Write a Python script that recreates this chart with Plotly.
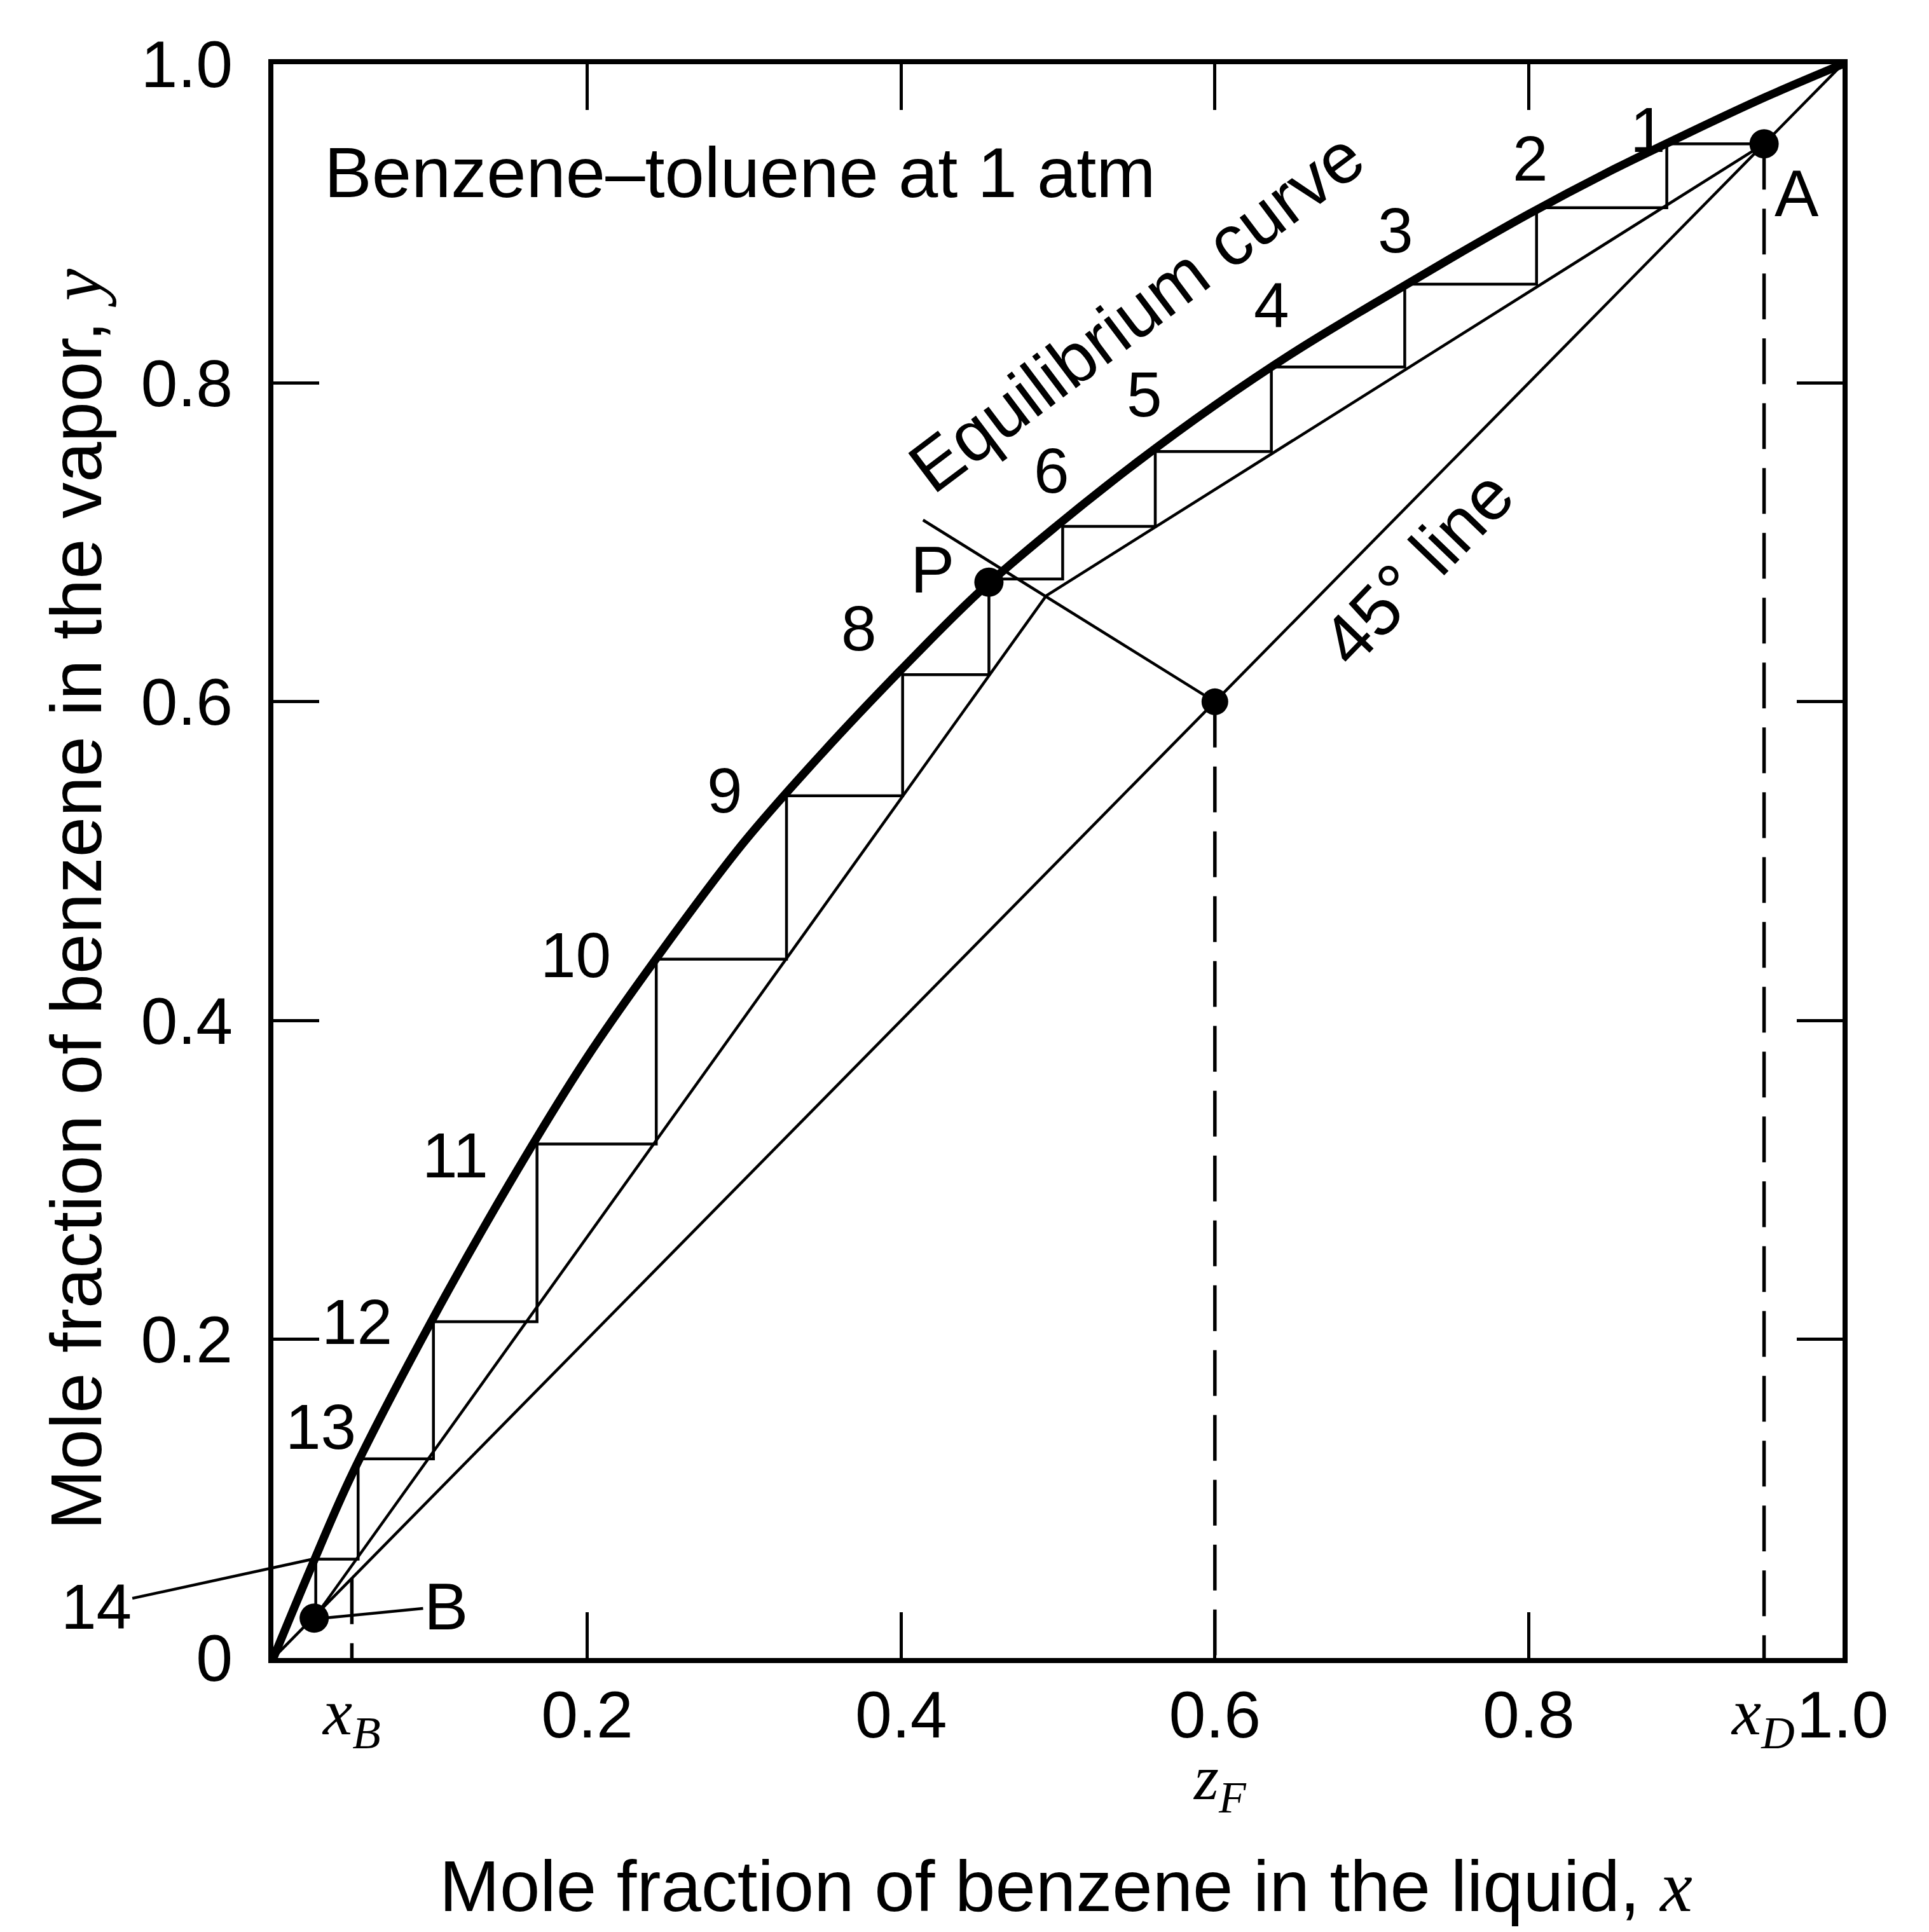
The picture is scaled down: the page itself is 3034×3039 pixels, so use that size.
import plotly.graph_objects as go

# ---- data ----
eq_x = [0.0, 0.025, 0.05, 0.1, 0.15, 0.2, 0.25, 0.3, 0.35, 0.4, 0.45, 0.5, 0.55,
        0.6, 0.65, 0.7, 0.75, 0.8, 0.85, 0.9, 0.95, 1.0]
eq_y = [0.0, 0.059, 0.115, 0.210, 0.297, 0.377, 0.447, 0.512, 0.568, 0.620, 0.669, 0.711, 0.750,
        0.786, 0.819, 0.849, 0.878, 0.906, 0.932, 0.956, 0.979, 1.0]

# stages counted from the top (stage 1) to the bottom (stage 14)
stage_x = [0.888, 0.805, 0.721, 0.636, 0.562, 0.503, 0.456, 0.401, 0.327, 0.244, 0.168, 0.102, 0.054, 0.027]
stage_y = [0.950, 0.910, 0.862, 0.810, 0.757, 0.710, 0.677, 0.617, 0.541, 0.4385, 0.3225, 0.211, 0.125, 0.062]

x_D, x_B, z_F = 0.95, 0.05, 0.60
pt_A = (0.95, 0.95)
pt_P = (0.456, 0.675)
pt_B = (0.026, 0.025)
pt_int = (0.4925, 0.6665)   # intersection of operating lines
q_end = (0.414, 0.714)      # upper end of q-line

rect_x = [x_D, pt_int[0]]
rect_y = [x_D, pt_int[1]]
strip_x = [pt_int[0], pt_B[0]]
strip_y = [pt_int[1], pt_B[1]]
q_x = [z_F, q_end[0]]
q_y = [z_F, q_end[1]]

y_ticks = [0, 0.2, 0.4, 0.6, 0.8, 1.0]
y_ticktext = ["0", "0.2", "0.4", "0.6", "0.8", "1.0"]
x_ticks = [0.2, 0.4, 0.6, 0.8, 1.0]
x_ticktext = ["0.2", "0.4", "0.6", "0.8", "1.0"]

stage_labels = ["1", "2", "3", "4", "5", "6", "8", "9", "10", "11", "12", "13"]

# ---- build staircase path ----
sx, sy = [x_D], [x_D]
for i in range(len(stage_x)):
    sx.append(stage_x[i]); sy.append(stage_y[i])
    nxt = stage_y[i + 1] if i + 1 < len(stage_y) else pt_B[1] + 0.004
    sx.append(stage_x[i]); sy.append(nxt)

BLACK = "black"
THIN = 4.5
fig = go.Figure()

def line(x, y, w=THIN, dash=None, shape="linear"):
    fig.add_trace(go.Scatter(x=x, y=y, mode="lines", showlegend=False, hoverinfo="skip",
                             line=dict(color=BLACK, width=w, dash=dash, shape=shape)))

line([0, 1], [0, 1])                     # 45 degree line
line(rect_x, rect_y)                     # rectifying line
line(strip_x, strip_y)                   # stripping line
line(q_x, q_y)                           # q-line
line(sx, sy)                             # staircase
dash = "72px,30px"
line([z_F, z_F], [z_F, 0], w=5.5, dash=dash)
line([x_D, x_D], [x_D, 0], w=5.5, dash=dash)
line([x_B, x_B], [x_B, 0], w=5.5, dash=dash)
line(eq_x, eq_y, w=13, shape="spline")   # equilibrium curve

fig.add_trace(go.Scatter(x=[pt_A[0], pt_P[0], pt_B[0]], y=[pt_A[1], pt_P[1], pt_B[1]],
                         mode="markers", showlegend=False, hoverinfo="skip", cliponaxis=False,
                         marker=dict(color=BLACK, size=46)))
fig.add_trace(go.Scatter(x=[z_F], y=[z_F], mode="markers", showlegend=False, hoverinfo="skip",
                         marker=dict(color=BLACK, size=42)))

SANS = "Liberation Sans, Arial, sans-serif"
SERIF = "Liberation Serif, Times New Roman, serif"
C = dict(xanchor="center", yanchor="middle")
ann = []
lab_pos = [(0.876, 0.959), (0.801, 0.941), (0.715, 0.896), (0.636, 0.849), (0.555, 0.793),
           (0.496, 0.745), (0.373, 0.646), (0.2875, 0.5445), (0.1925, 0.441), (0.116, 0.3155),
           (0.0534, 0.211), (0.030, 0.145)]
for t, (px, py) in zip(stage_labels, lab_pos):
    ann.append(dict(x=px, y=py, xref="x", yref="y", text=t, showarrow=False, **C,
                    font=dict(size=100, family=SANS)))
ann += [
    dict(x=0.971, y=0.919, xref="x", yref="y", text="A", showarrow=False, **C, font=dict(size=104, family=SANS)),
    dict(x=0.420, y=0.683, xref="x", yref="y", text="P", showarrow=False, **C, font=dict(size=104, family=SANS)),
    dict(x=0.0314, y=0.932, xref="x", yref="y", text="Benzene\u2013toluene at 1 atm", xanchor="left",
         yanchor="middle", showarrow=False, font=dict(size=112, family=SANS)),
    dict(x=0.550, y=0.8445, xref="x", yref="y", text="Equilibrium curve", textangle=-37,
         showarrow=False, **C, font=dict(size=112, family=SANS)),
    dict(x=0.729, y=0.684, xref="x", yref="y", text="45\u00b0 line", textangle=-46,
         showarrow=False, **C, font=dict(size=112, family=SANS)),
    dict(x=0.025, y=0.062, xref="x", yref="y", ax=-0.113, ay=0.0325, axref="x", ayref="y",
         text="14", showarrow=True, arrowhead=0, arrowwidth=THIN, arrowcolor=BLACK, standoff=0,
         font=dict(size=100, family=SANS)),
    dict(x=0.032, y=0.025, xref="x", yref="y", ax=0.110, ay=0.0325, axref="x", ayref="y",
         text="B", showarrow=True, arrowhead=0, arrowwidth=THIN, arrowcolor=BLACK, standoff=0,
         font=dict(size=104, family=SANS)),
    dict(x=0.0495, y=-0.037, xref="paper", yref="paper", text="<i>x</i><sub><i>B</i></sub>",
         showarrow=False, **C, font=dict(size=104, family=SERIF)),
    dict(x=0.949, y=-0.037, xref="paper", yref="paper", text="<i>x</i><sub><i>D</i></sub>",
         showarrow=False, **C, font=dict(size=104, family=SERIF)),
    dict(x=0.603, y=-0.078, xref="paper", yref="paper", text="<i>z</i><sub><i>F</i></sub>",
         showarrow=False, **C, font=dict(size=100, family=SERIF)),
    dict(x=0.505, y=-0.143, xref="paper", yref="paper",
         text="Mole fraction of benzene in the liquid, <span style='font-family:Liberation Serif'><i>x</i></span>",
         showarrow=False, **C, font=dict(size=114, family=SANS)),
    dict(x=-0.1257, y=0.476, xref="paper", yref="paper", textangle=-90,
         text="Mole fraction of benzene in the vapor, <span style='font-family:Liberation Serif'><i>y</i></span>",
         showarrow=False, **C, font=dict(size=114, family=SANS)),
]

axis_common = dict(range=[0, 1], showgrid=False, zeroline=False, showline=True, linewidth=8,
                   linecolor=BLACK, mirror="ticks", ticks="inside", ticklen=72, tickwidth=THIN,
                   tickcolor=BLACK, tickfont=dict(size=104, family=SANS, color=BLACK))
fig.update_layout(
    width=3034, height=3039,
    margin=dict(l=430, r=136, t=101, b=431),
    paper_bgcolor="white", plot_bgcolor="white",
    font=dict(family=SANS, color=BLACK),
    xaxis=dict(**axis_common, tickvals=x_ticks, ticktext=x_ticktext, ticklabelstandoff=-8),
    yaxis=dict(**axis_common, tickvals=y_ticks, ticktext=y_ticktext, ticklabelstandoff=35),
    annotations=ann,
)
fig.write_html("out.html")
